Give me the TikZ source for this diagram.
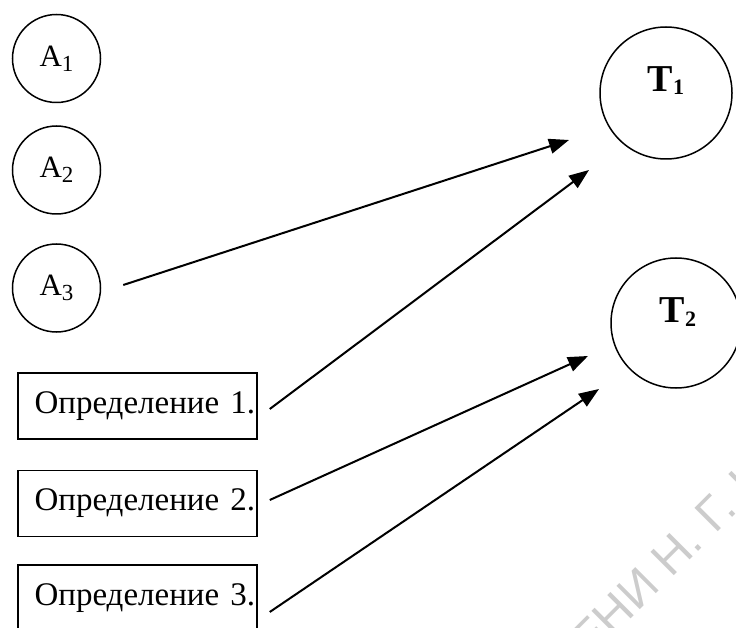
\documentclass[tikz,border=0pt]{standalone}
\usepackage{fontspec}
\setmainfont{Liberation Serif}
\newfontfamily\wmfont{Liberation Sans}
\usetikzlibrary{arrows.meta,calc}
\newcommand\mysubA[1]{\raisebox{-5pt}{\fontsize{23}{23}\selectfont #1}}
\begin{document}
\begin{tikzpicture}[x=1pt,y=-1pt,
  acirc/.style={draw,circle,line width=1.5pt,minimum size=88pt,inner sep=0pt,font=\fontsize{31}{31}\selectfont},
  tcirc/.style={draw,circle,line width=1.5pt,inner sep=0pt},
  tlabel/.style={anchor=base,inner sep=0pt,font=\fontsize{38}{38}\selectfont\bfseries},
  defbox/.style={draw,rectangle,line width=1.5pt,minimum height=66pt,text width=235pt,align=right,inner xsep=2pt,inner ysep=0pt,font=\fontsize{33}{33}\selectfont},
  link/.style={line width=2pt,-{Triangle[length=20pt,width=15pt]}},
  wm/.style={inner sep=0pt,text=black!20,font=\wmfont\fontsize{48}{48}\selectfont}]
\useasboundingbox (0,0) rectangle (736,628);
\begin{scope}
\clip (0,0) rectangle (736,628);
% watermark
\coordinate (wmref) at (715.4,534.6);
\node[wm,anchor=base east,rotate=45] (W1) at (wmref) {ИМЕНИ Н.\kern0.3em};
\node[wm,anchor=base west,rotate=45] (W2) at (wmref) {Г.\kern0.3em ЧЕРНЫШЕВСКОГО};
% circles A
\node[acirc] (A1) at (56.5,58.5) {A\mysubA{1}};
\node[acirc] (A2) at (56.5,170) {A\mysubA{2}};
\node[acirc] (A3) at (56.5,288) {A\mysubA{3}};
% circles T
\node[tcirc,minimum size=132pt] (T1) at (666,93) {};
\node[tlabel] (T1l) at (666,92) {T\raisebox{-3pt}{\fontsize{22}{22}\selectfont 1}};
\node[tcirc,minimum size=130pt] (T2) at (676,323) {};
\node[tlabel] (T2l) at (678,322) {T\raisebox{-5pt}{\fontsize{22}{22}\selectfont 2}};
% boxes
\node[defbox] (D1) at (137.5,406) {Определение 1.};
\node[defbox] (D2) at (137.5,503.5) {Определение 2.};
\node[defbox] (D3) at (137.5,598) {Определение 3.};
% arrows
\draw[link] ($(A3.east)+(22,-3)$) -- ($(T1)+(-97,47)$);
\draw[link] ($(D1.east)+(12,3)$) -- ($(T1)+(-77,77)$);
\draw[link] ($(D2.east)+(12,-3.5)$) -- ($(T2)+(-88,33)$);
\draw[link] ($(D3.east)+(12,14)$) -- ($(T2)+(-77,66)$);
\end{scope}
\end{tikzpicture}
\end{document}
